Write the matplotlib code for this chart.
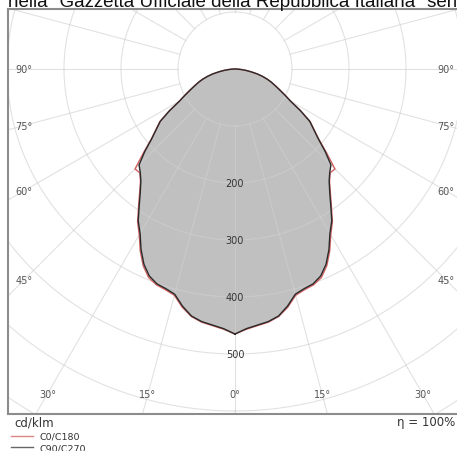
import numpy as np
import matplotlib
matplotlib.use("Agg")
import matplotlib.pyplot as plt

# ---------------- data (cd/klm) ----------------
angles_deg = [0, 2.5, 5, 7.5, 10, 12.5, 15, 17.5, 20, 22.5, 25, 27.5, 30, 32.5, 35,
              37.5, 40, 42.5, 45, 47.5, 50, 52.5, 55, 57.5, 60, 62.5, 65, 67.5, 70,
              72.5, 75, 77.5, 80, 82.5, 85, 87.5, 90]
c0_c180 = [465, 457, 452, 448, 441, 428, 411, 406, 403, 396, 381, 360, 336, 318, 295,
           275, 258, 247, 248, 218, 192, 175, 161, 137, 113, 99, 87, 77, 68,
           60, 50, 40, 29, 20, 12, 5, 0]
c90_c270 = [465, 456, 451, 447, 440, 426, 409, 404, 401, 393, 378, 357, 333, 316, 293,
            273, 257, 246, 238, 215, 191, 174, 160, 136, 112, 98, 86, 76, 68,
            59, 50, 40, 29, 20, 12, 5, 0]
ring_values = [100, 200, 300, 400, 500, 600, 700, 800, 900]
ring_labels = [200, 300, 400, 500]
side_angle_labels = [90, 75, 60, 45]
bottom_angle_labels = [30, 15, 0]
series_names = ["C0/C180", "C90/C270"]
unit_text = "cd/klm"
eta_text = "η = 100%"
title_text = 'nella "Gazzetta Ufficiale della Repubblica Italiana" serie generale'

# ---------------- layout ----------------
W, H = 457, 452
ppu = 0.57             # pixels per cd/klm
cx, cy = 235, 70       # pole position in pixels
left_px, right_px, top_px, bot_px = 8, 462, 9.5, 415

fig = plt.figure(figsize=(W / 100, H / 100), dpi=100)
fig.patch.set_facecolor("white")
ax = fig.add_axes([left_px / W, 1 - bot_px / H, (right_px - left_px) / W, (bot_px - top_px) / H])
ax.set_xlim((left_px - cx) / ppu, (right_px - cx) / ppu)
ax.set_ylim(-(bot_px - cy) / ppu, (cy - top_px) / ppu)
ax.set_xticks([])
ax.set_yticks([])
for s in ax.spines.values():
    s.set_color("#8c8c8c")
    s.set_linewidth(1.5)


def full_curve(vals):
    a = np.deg2rad(np.array(angles_deg))
    v = np.array(vals, dtype=float)
    th = np.concatenate([a, -a[::-1]])
    r = np.concatenate([v, v[::-1]])
    return r * np.sin(th), -r * np.cos(th)


xb, yb = full_curve(c90_c270)
xr, yr = full_curve(c0_c180)

ax.fill(xb, yb, color="#c0c0c0", lw=0, zorder=1)

grid_col = "#d0d0d0"
grid_alpha = 0.62
t = np.linspace(0, 2 * np.pi, 721)
for rv in ring_values:
    ax.plot(rv * np.sin(t), -rv * np.cos(t), color=grid_col, alpha=grid_alpha, lw=0.8, zorder=2)
for a in range(0, 360, 15):
    ar = np.deg2rad(a)
    ax.plot([100 * np.sin(ar), 1000 * np.sin(ar)], [-100 * np.cos(ar), -1000 * np.cos(ar)],
            color=grid_col, alpha=grid_alpha, lw=0.8, zorder=2)

ax.plot(xr, yr, color="#d0605f", lw=1.0, zorder=3)
ax.plot(xb, yb, color="#2a2a2a", lw=1.0, zorder=4)

for v in ring_labels:
    ax.text(0, -v, str(v), ha="center", va="center", fontsize=7, color="#333333", zorder=5)

lab_col = "#555555"
side_x = 211 / ppu
for a in side_angle_labels:
    ar = np.deg2rad(a)
    yv = -side_x * np.cos(ar) / np.sin(ar)
    for sgn in (-1, 1):
        ax.text(sgn * side_x, yv, f"{a}°", ha="center", va="center", fontsize=7, color=lab_col, zorder=5)
bottom_y = (395 - cy) / ppu
for a in bottom_angle_labels:
    ar = np.deg2rad(a)
    xv = bottom_y * np.tan(ar)
    for sgn in ((-1, 1) if a else (1,)):
        ax.text(sgn * xv, -bottom_y, f"{a}°", ha="center", va="center", fontsize=7, color=lab_col, zorder=5)

fig.text(14 / W, 1 - 423 / H, unit_text, ha="left", va="center", fontsize=8.5, color="#333333")
fig.text(455 / W, 1 - 423 / H, eta_text, ha="right", va="center", fontsize=8.5, color="#333333")

leg_r, = ax.plot([], [], color="#e08585", lw=1.0)
leg_b, = ax.plot([], [], color="#666666", lw=1.0)
fig.legend([leg_r, leg_b], series_names, loc="upper left", bbox_to_anchor=(11 / W, 1 - 433 / H),
           frameon=False, fontsize=6.8, handlelength=2.3, handletextpad=0.7, labelspacing=0.25,
           borderpad=0, borderaxespad=0, labelcolor="#333333")

fig.text(8 / W, 1 - 7.3 / H, title_text, ha="left", va="baseline", fontsize=13.5,
         family="Liberation Sans", color="#111111")

fig.savefig("out.png", dpi=100)
